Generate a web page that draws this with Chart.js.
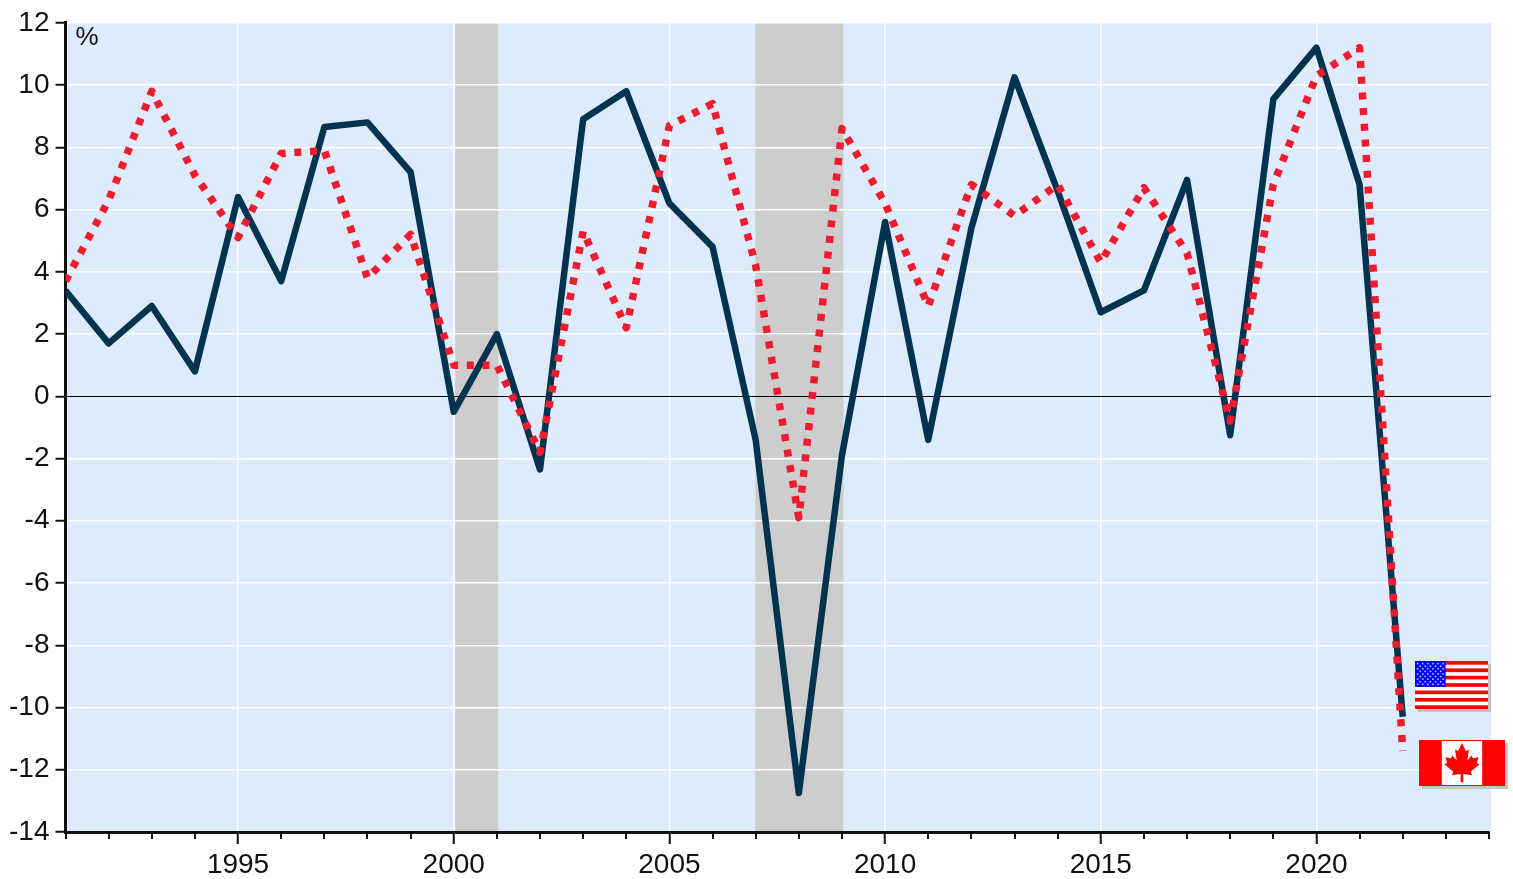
<!DOCTYPE html>
<html>
<head>
<meta charset="utf-8">
<style>
html, body { margin: 0; padding: 0; background: #fff; }
#wrap { width: 1513px; height: 879px; }
</style>
<script src="https://cdn.jsdelivr.net/npm/chart.js@4"></script>
</head>
<body>
<div id="wrap"><canvas id="gdp_Chart" role="img" aria-label="Line chart in percent of two series for the United States and Canada, 1991 to 2022"></canvas></div>
<script>
const years = [1991,1992,1993,1994,1995,1996,1997,1998,1999,2000,2001,2002,2003,2004,2005,2006,2007,2008,2009,2010,2011,2012,2013,2014,2015,2016,2017,2018,2019,2020,2021,2022];
const solid_values = [3.4,1.7,2.9,0.8,6.4,3.7,8.65,8.8,7.2,-0.5,2.0,-2.35,8.9,9.8,6.2,4.8,-1.4,-12.75,-1.9,5.6,-1.4,5.4,10.25,6.6,2.7,3.4,6.95,-1.25,9.55,11.2,6.8,-10.3];
const dotted_values = [3.7,6.3,9.8,7.1,5.1,7.8,7.9,3.8,5.2,1.0,1.0,-1.8,5.3,2.2,8.7,9.4,4.2,-3.9,8.6,6.2,2.9,6.8,5.8,6.8,4.3,6.7,4.6,-0.8,6.8,10.3,11.2,-11.4];
const recessions = [[2000,2001],[2006.96,2009]];
const x_ticks = [1995,2000,2005,2010,2015,2020];
const x_min = 1991, x_max = 2024, y_min = -14, y_max = 12;

// plot background and shaded periods
const backgroundPlugin = {
    id: 'plotBackground',
    beforeDraw(chart) {
        const {ctx, chartArea: a, scales} = chart;
        ctx.save();
        ctx.fillStyle = '#DEEBFD';
        ctx.fillRect(a.left, a.top, a.width + 2, a.height);
        ctx.fillStyle = '#CDCDCD';
        recessions.forEach(r => {
            let x0 = scales.x.getPixelForValue(r[0]);
            let x1 = scales.x.getPixelForValue(r[1]);
            ctx.fillRect(x0 + 1.5, a.top, x1 - x0, a.height);
        });
        ctx.restore();
    },
    beforeDatasetsDraw(chart) {
        const {ctx, chartArea: a, scales} = chart;
        ctx.save();
        // zero line goes over the shading
        let y0 = scales.y.getPixelForValue(0);
        ctx.strokeStyle = '#000';
        ctx.lineWidth = 1.2;
        ctx.beginPath();
        ctx.moveTo(a.left, Math.round(y0) + 0.5);
        ctx.lineTo(a.right + 2, Math.round(y0) + 0.5);
        ctx.stroke();
        ctx.restore();
    },
    afterDraw(chart) {
        const {ctx, chartArea: a, scales} = chart;
        ctx.save();
        // yearly minor ticks
        ctx.strokeStyle = '#111';
        ctx.lineWidth = 2;
        for (let yr = x_min; yr <= x_max; yr++) {
            if (x_ticks.includes(yr)) continue;
            let x = Math.round(scales.x.getPixelForValue(yr));
            ctx.beginPath();
            ctx.moveTo(x, a.bottom);
            ctx.lineTo(x, a.bottom + 7);
            ctx.stroke();
        }
        ctx.fillStyle = '#111';
        ctx.font = '26px "Liberation Sans"';
        ctx.textBaseline = 'alphabetic';
        ctx.fillText('%', a.left + 10, a.top + 22);
        ctx.restore();
        drawUsFlag(ctx, 1415, 661, 73, 48);
        drawCanadaFlag(ctx, 1419, 740, 86, 46);
    }
};

function drawUsFlag(ctx, x, y, w, h) {
    ctx.save();
    ctx.fillStyle = '#C4C4C4';
    ctx.fillRect(x + 3, y + 3, w, h);
    ctx.fillStyle = '#fff';
    ctx.fillRect(x, y, w, h);
    ctx.fillStyle = '#FF0000';
    let sh = h / 13;
    for (let i = 0; i < 13; i += 2) {
        ctx.fillRect(x, y + i * sh, w, sh);
    }
    let cw = w * 0.42, ch = sh * 7;
    ctx.fillStyle = '#0000FF';
    ctx.fillRect(x, y, cw, ch);
    ctx.fillStyle = '#D8D8FF';
    for (let r = 0; r < 9; r++) {
        let n = r % 2 ? 5 : 6;
        for (let c = 0; c < n; c++) {
            let ox = (r % 2 ? 2 * cw / 12 : cw / 12) + c * cw / 6;
            let oy = (r + 1) * ch / 10;
            ctx.fillRect(x + ox - 0.7, y + oy - 0.7, 1.5, 1.5);
        }
    }
    ctx.restore();
}

function drawCanadaFlag(ctx, x, y, w, h) {
    ctx.save();
    ctx.fillStyle = '#C4C4C4';
    ctx.fillRect(x + 3, y + 3, w, h);
    ctx.fillStyle = '#FF0000';
    ctx.fillRect(x, y, w, h);
    let bar = w * 0.265;
    ctx.fillStyle = '#fff';
    ctx.fillRect(x + bar, y + 1, w - 2 * bar, h - 2);
    // half of the maple leaf, mirrored
    const leaf = [[0,-.46],[.09,-.27],[.16,-.31],[.12,-.06],[.22,-.17],[.25,-.11],[.38,-.13],[.34,0],[.4,.03],[.2,.2],[.23,.28],[.03,.25],[.03,.44]];
    let cx = x + w / 2, cy = y + h / 2, s = h * 0.95;
    ctx.fillStyle = '#FF0000';
    ctx.beginPath();
    leaf.forEach((p, i) => {
        if (i === 0) ctx.moveTo(cx, cy + p[1] * s);
        else ctx.lineTo(cx + p[0] * s, cy + p[1] * s);
    });
    leaf.slice().reverse().forEach(p => ctx.lineTo(cx - p[0] * s, cy + p[1] * s));
    ctx.closePath();
    ctx.fill();
    ctx.restore();
}

Chart.defaults.font.family = '"Liberation Sans", Arial, sans-serif';

let graphData = {
    type: 'line',
    data: {
        labels: years,
        datasets: [{
            label: 'Solid',
            data: years.map((yr, i) => ({x: yr, y: solid_values[i]})),
            borderColor: '#00334F',
            borderWidth: 6.5,
            pointRadius: 0,
            tension: 0,
            borderJoinStyle: 'round',
            borderCapStyle: 'butt',
            order: 2,
        },
        {
            label: 'Dotted',
            data: years.map((yr, i) => ({x: yr, y: dotted_values[i]})),
            borderColor: '#ED1C2E',
            borderWidth: 7.5,
            borderDash: [7, 8.7],
            pointRadius: 0,
            tension: 0,
            borderJoinStyle: 'round',
            borderCapStyle: 'butt',
            order: 1,
        }]
    },
    options: {
        responsive: false,
        animation: false,
        events: [],
        layout: {padding: {top: 2, right: 24, bottom: 0, left: 0}},
        plugins: {legend: {display: false}, tooltip: {enabled: false}},
        scales: {
            x: {
                type: 'linear',
                min: x_min,
                max: x_max,
                afterBuildTicks: axis => { axis.ticks = x_ticks.map(v => ({value: v})); },
                afterFit: axis => { axis.height = 47; },
                grid: {color: '#fff', lineWidth: 1.5, tickColor: '#111', tickLength: 12, tickWidth: 2},
                border: {color: '#111', width: 3},
                ticks: {
                    color: '#111',
                    maxRotation: 0,
                    autoSkip: false,
                    padding: 4,
                    font: {size: 28},
                    callback: v => String(v),
                },
            },
            y: {
                min: y_min,
                max: y_max,
                afterFit: axis => { axis.width = 65.5; },
                afterBuildTicks: axis => { axis.ticks = axis.ticks.filter(t => t.value % 2 === 0); },
                grid: {
                    color: ctx => (ctx.tick && ctx.tick.value === 0) ? 'rgba(0,0,0,0)' : '#fff',
                    lineWidth: 1.5,
                    tickColor: '#111',
                    tickLength: 10,
                    tickWidth: 2,
                },
                border: {color: '#111', width: 3},
                ticks: {
                    stepSize: 2,
                    color: '#111',
                    padding: 6,
                    autoSkip: false,
                    font: {size: 28},
                },
            }
        },
    },
    plugins: [backgroundPlugin],
};

let ctx = document.getElementById('gdp_Chart');
ctx.width = 1513;
ctx.height = 879;
ctx.style.width = '1513px';
ctx.style.height = '879px';
let gdp_Chart = new Chart(ctx, graphData);
</script>
</body>
</html>
